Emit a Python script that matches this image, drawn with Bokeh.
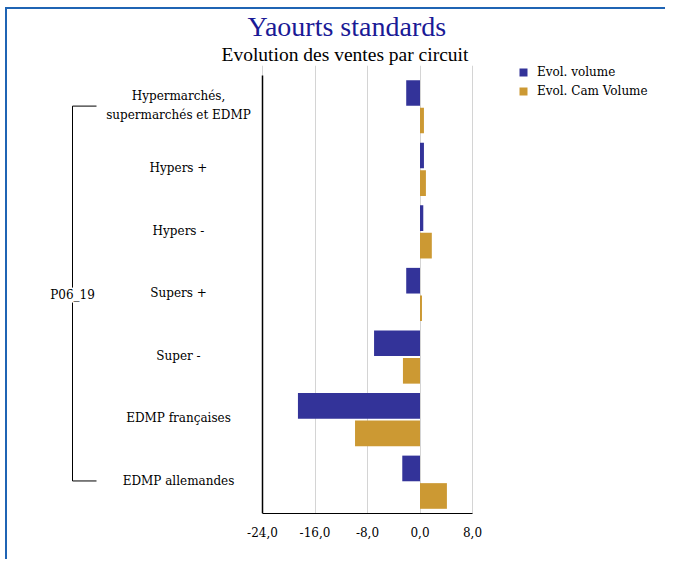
import numpy as np
from bokeh.plotting import figure
from bokeh.models import (Range1d, Legend, LegendItem, FixedTicker, Title,
                          CustomJSTickFormatter, ColumnDataSource)
from bokeh.embed import file_html
from bokeh.resources import INLINE

# ---- data ----
categories = ["Hypermarchés,\nsupermarchés et EDMP", "Hypers +", "Hypers -", "Supers +",
              "Super -", "EDMP françaises", "EDMP allemandes"]
evol_volume = [-2.1, 0.6, 0.5, -2.1, -7.0, -18.6, -2.7]
evol_cam_volume = [0.6, 0.9, 1.8, 0.3, -2.6, -9.9, 4.1]
tick_values = [-24, -16, -8, 0, 8]
group_label = "P06_19"
series_names = ["Evol. volume", "Evol. Cam Volume"]
title_text = "Yaourts standards"
subtitle_text = "Evolution des ventes par circuit"

BLUE = "#333399"
GOLD = "#cc9933"
SERIF = "DejaVu Serif"
TITLE_FONT = "Liberation Serif"

OX, OY = 7, 9                 # canvas origin on the page (after css margin + border)
W, H = 660, 552
px_per_unit = 6.5625
x_axis_left_px = 262 - OX     # canvas px of -24
x_start = tick_values[0] - x_axis_left_px / px_per_unit
x_end = x_start + W / px_per_unit

FRAME_TOP, FRAME_BOTTOM = 62 - OY, 513 - OY
group_px = 63.0
n = len(categories)
idx = np.arange(n)
y_top = n - (FRAME_BOTTOM - FRAME_TOP) / group_px

def xdata(page_x):
    return tick_values[0] + (page_x - 262) / px_per_unit

p = figure(width=W, height=H, output_backend="svg", toolbar_location=None,
           x_range=Range1d(x_start, x_end), y_range=Range1d(n, y_top),
           min_border_left=0, min_border_right=0, min_border_top=FRAME_TOP,
           min_border_bottom=H - FRAME_BOTTOM, y_axis_location=None)
p.outline_line_color = None
p.background_fill_color = "white"
p.border_fill_color = "white"
p.styles = {"border-top": "2px solid #1f64b4", "border-left": "2px solid #1f64b4",
            "margin-left": "5px", "margin-top": "7px"}

# grid / axes
p.ygrid.visible = False
p.xgrid.ticker = FixedTicker(ticks=tick_values)
p.xgrid.grid_line_color = "#d4d4d4"
p.xgrid.grid_line_width = 1
p.xaxis.ticker = FixedTicker(ticks=tick_values)
p.xaxis.bounds = (tick_values[0], tick_values[-1])
p.xaxis.formatter = CustomJSTickFormatter(code="return tick.toFixed(1).replace('.', ',');")
p.xaxis.axis_line_color = "black"
p.xaxis.axis_line_width = 1
p.xaxis.major_tick_line_color = None
p.xaxis.minor_tick_line_color = None
p.xaxis.major_label_standoff = 7
p.xaxis.major_label_text_font = SERIF
p.xaxis.major_label_text_font_size = "12px"
p.xaxis.major_label_text_color = "black"

# value axis baseline (left edge of the bar area)
p.segment(x0=[tick_values[0]], y0=[0], x1=[tick_values[0]], y1=[n],
          line_color="black", line_width=1.5)

# bars
src = ColumnDataSource(dict(y_vol=idx + 0.28, y_cam=idx + 0.72,
                            vol=evol_volume, cam=evol_cam_volume))
r1 = p.hbar(y="y_vol", right="vol", left=0, height=0.41, source=src,
            fill_color=BLUE, line_color=None)
r2 = p.hbar(y="y_cam", right="cam", left=0, height=0.41, source=src,
            fill_color=GOLD, line_color=None)

# category labels
p.text(x=[xdata(178)] * n, y=idx + 0.48, text=categories, text_align="center",
       text_baseline="middle", text_font={"value": SERIF}, text_font_size="12px",
       text_color="black", text_line_height=1.4)

# bracket
bx, bx2 = xdata(72), xdata(96)
ytop, ybot = 0.49, n - 0.52
mid = n / 2
p.segment(x0=[bx, bx, bx, bx], y0=[ytop, mid + 0.13, ytop, ybot],
          x1=[bx, bx, bx2, bx2], y1=[mid - 0.11, ybot, ytop, ybot],
          line_color="black", line_width=1)
p.text(x=[bx], y=[mid + 0.01], text=[group_label], text_align="center",
       text_baseline="middle", text_font={"value": SERIF}, text_font_size="12px",
       text_color="black")

# titles (first added sits closest to the plot)
p.add_layout(Title(text=subtitle_text, align="left", offset=221 - OX, standoff=0,
                   text_font=TITLE_FONT, text_font_size="19.5px", text_font_style="normal",
                   text_line_height=0.9, vertical_align="middle",
                   text_color="black"), "above")
p.add_layout(Title(text=title_text, align="left", offset=247 - OX, standoff=0,
                   text_font=TITLE_FONT, text_font_size="28px", text_font_style="normal",
                   text_line_height=1.1, vertical_align="middle",
                   text_color="#1a1a96"), "above")

# legend
legend = Legend(items=[LegendItem(label=series_names[0], renderers=[r1]),
                       LegendItem(label=series_names[1], renderers=[r2])],
                location=(518 - OX, FRAME_BOTTOM - (100.5 - OY)), orientation="vertical")
legend.padding = 0
legend.margin = 0
legend.spacing = 0
legend.glyph_width = 10
legend.glyph_height = 10
legend.label_height = 19
legend.label_standoff = 9
legend.label_text_font = SERIF
legend.label_text_font_size = "12px"
legend.label_text_color = "black"
legend.border_line_color = None
legend.background_fill_alpha = 0
p.add_layout(legend)

open("out.html", "w").write(file_html(p, INLINE))
